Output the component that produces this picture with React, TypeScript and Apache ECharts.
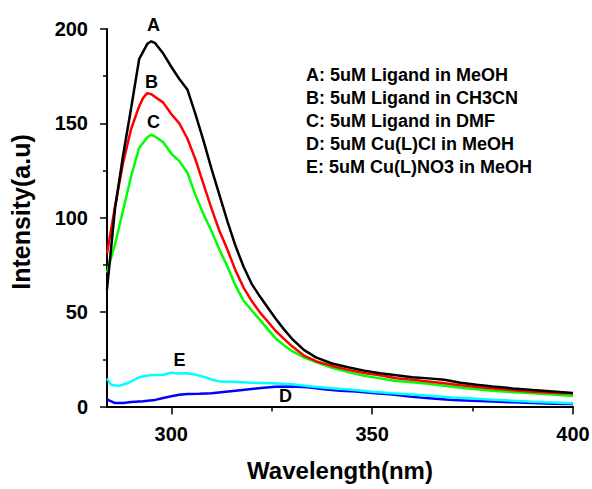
import React, { useEffect, useRef } from "react";
import * as echarts from "echarts";

// Curve A: 5uM Ligand in MeOH (black)
const wavelengthA = [284, 286, 288, 290, 292, 294, 295, 296, 298, 300, 302, 304, 306, 308, 310, 312, 314, 316, 318, 320, 322, 324, 326, 328, 330, 333, 336, 340, 344, 348, 352, 356, 360, 364, 368, 372, 376, 380, 385, 390, 395, 400];
const intensityA = [62, 105, 133, 158, 184, 192, 193.5, 192.5, 187, 180, 173.5, 168, 155, 141, 126, 112, 98, 85, 74, 65, 58.5, 52.5, 46.5, 41, 36, 30, 26, 22.8, 20.8, 19, 17.6, 16.6, 15.5, 14.9, 14.2, 12.6, 11.5, 10.6, 9.6, 8.7, 8, 7.2];

// Curve B: 5uM Ligand in CH3CN (red)
const wavelengthB = [284, 286, 288, 290, 292, 293, 294, 295, 296, 298, 300, 302, 304, 306, 308, 310, 312, 314, 316, 318, 320, 322, 324, 326, 328, 330, 333, 336, 340, 344, 348, 352, 356, 360, 364, 368, 372, 376, 380, 385, 390, 395, 400];
const intensityB = [81, 106, 129, 147, 159, 163.5, 166, 165.5, 164, 161, 155, 150, 142, 131, 118, 105, 93, 83, 72, 63, 56, 50, 45, 40, 36, 32, 27, 24, 21.5, 19.4, 17.8, 16.6, 15, 14.2, 13.3, 12.3, 11.2, 10.3, 9.5, 8.6, 7.8, 7.3, 6.9];

// Curve C: 5uM Ligand in DMF (green)
const wavelengthC = [284, 286, 288, 290, 292, 294, 295, 296, 298, 300, 302, 304, 306, 308, 310, 312, 314, 316, 318, 320, 322, 324, 326, 328, 330, 333, 336, 340, 344, 348, 352, 356, 360, 364, 368, 372, 376, 380, 385, 390, 395, 400];
const intensityC = [71, 86, 104, 122, 137, 142.5, 144, 143, 140, 134, 130, 124, 112, 102, 93, 83, 74, 64, 56, 51, 46, 41, 36, 32.5, 29.5, 26, 23.5, 20.5, 18.2, 16.3, 14.9, 13.5, 12.9, 12, 11, 9.9, 9.2, 8.4, 7.6, 7, 6.3, 5.6];

// Curve D: 5uM Cu(L)Cl in MeOH (blue)
const wavelengthD = [284, 286, 288, 290, 293, 296, 298, 300, 302, 304, 307, 310, 313, 316, 320, 323, 326, 330, 334, 338, 342, 346, 350, 355, 360, 365, 370, 375, 380, 385, 390, 395, 400];
const intensityD = [3.8, 1.8, 1.9, 2.4, 2.8, 3.5, 4.5, 5.4, 6.2, 6.6, 6.7, 7, 7.7, 8.4, 9.3, 9.9, 10.4, 10.6, 10.2, 9.1, 8.4, 7.9, 7.2, 6.3, 5.1, 4.3, 3.5, 3, 2.6, 2.2, 1.8, 1.5, 1.3];

// Curve E: 5uM Cu(L)NO3 in MeOH (cyan)
const wavelengthE = [284, 285, 287, 289, 292, 295, 298, 300, 302, 304, 306, 308, 310, 312, 315, 320, 325, 330, 335, 340, 345, 350, 355, 360, 365, 370, 375, 380, 385, 390, 395, 400];
const intensityE = [14.9, 11.5, 10.9, 12.3, 15.5, 16.7, 16.8, 17.9, 17.5, 17.6, 16.9, 15.8, 14.3, 13.3, 13.1, 12.6, 12.3, 11.8, 10.6, 9.7, 8.9, 7.8, 7, 6.3, 5.6, 4.8, 4.2, 3.6, 3.1, 2.5, 2.1, 1.7];

const legendLines = [
  "A: 5uM Ligand in MeOH",
  "B: 5uM Ligand in CH3CN",
  "C: 5uM Ligand in DMF",
  "D: 5uM Cu(L)Cl in MeOH",
  "E: 5uM Cu(L)NO3 in MeOH",
];

const xMajorTicks = [300, 350, 400];
const xMinorTicks = [325, 375];

const FONT = "'Liberation Sans', Arial, Helvetica, sans-serif";

const zip = (xs: number[], ys: number[]) => xs.map((x, i) => [x, ys[i]]);

export default function App() {
  const ref = useRef<HTMLDivElement>(null);

  useEffect(() => {
    if (!ref.current) return;
    const chart = echarts.init(ref.current, undefined, { renderer: "svg" });

    const line = (name: string, data: number[][], color: string, z: number) => ({
      name,
      type: "line",
      data,
      showSymbol: false,
      symbol: "none",
      smooth: false,
      z,
      lineStyle: { color, width: 2.5 },
      itemStyle: { color },
    });

    const textEl = (text: string, x: number, y: number, size: number, align = "center") => ({
      type: "text",
      x,
      y,
      style: {
        text,
        fill: "#000",
        font: `bold ${size}px ${FONT}`,
        textAlign: align,
        textVerticalAlign: "middle",
      },
    });

    const legendEls = legendLines.map((t, i) => textEl(t, 306, 75 + i * 23, 18, "left"));

    chart.setOption({
      animation: false,
      backgroundColor: "#fff",
      grid: { left: 107, top: 29, width: 466, height: 377.5, containLabel: false, outerBoundsMode: "none" },
      xAxis: [
        {
          type: "value",
          min: 284,
          max: 400,
          position: "bottom",
          splitLine: { show: false },
          axisLine: { show: true, onZero: false, lineStyle: { color: "#000", width: 2 } },
          axisTick: { show: true, customValues: xMajorTicks, length: 8, lineStyle: { color: "#000", width: 1.5 } },
          axisLabel: {
            customValues: xMajorTicks,
            fontSize: 20,
            fontWeight: "bold",
            fontFamily: FONT,
            color: "#000",
            margin: 17,
          },
          name: "Wavelength(nm)",
          nameLocation: "middle",
          nameGap: 52,
          nameTextStyle: { fontSize: 24, fontWeight: "bold", fontFamily: FONT, color: "#000" },
        },
        {
          type: "value",
          min: 284,
          max: 400,
          position: "bottom",
          splitLine: { show: false },
          axisLine: { show: false },
          axisLabel: { show: false },
          axisTick: { show: true, customValues: xMinorTicks, length: 5, lineStyle: { color: "#000", width: 1.5 } },
        },
      ],
      yAxis: {
        type: "value",
        min: 0,
        max: 200,
        interval: 50,
        splitLine: { show: false },
        minorSplitLine: { show: false },
        axisLine: { show: true, onZero: false, lineStyle: { color: "#000", width: 2 } },
        axisTick: { show: true, length: 7, lineStyle: { color: "#000", width: 1.5 } },
        minorTick: { show: true, splitNumber: 2, length: 4, lineStyle: { color: "#000", width: 1.5 } },
        axisLabel: {
          fontSize: 20,
          fontWeight: "bold",
          fontFamily: FONT,
          color: "#000",
          margin: 19,
        },
      },
      graphic: [
        {
          type: "text",
          x: 21,
          y: 212,
          rotation: Math.PI / 2,
          style: {
            text: "Intensity(a.u)",
            fill: "#000",
            font: `bold 25px ${FONT}`,
            textAlign: "center",
            textVerticalAlign: "middle",
          },
        },
        ...legendEls,
        textEl("A", 153.5, 24.5, 18),
        textEl("B", 151.5, 81.5, 18),
        textEl("C", 153.5, 121.5, 18),
        textEl("D", 285.5, 396, 18),
        textEl("E", 179.5, 360, 18),
      ],
      series: [
        line(legendLines[3], zip(wavelengthD, intensityD), "#0000ff", 2),
        line(legendLines[4], zip(wavelengthE, intensityE), "#00ffff", 3),
        line(legendLines[2], zip(wavelengthC, intensityC), "#00ff00", 4),
        line(legendLines[1], zip(wavelengthB, intensityB), "#ff0000", 5),
        line(legendLines[0], zip(wavelengthA, intensityA), "#000000", 6),
      ],
    });

    return () => chart.dispose();
  }, []);

  return (
    <div
      ref={ref}
      style={{ position: "fixed", left: 0, top: 0, width: 592, height: 489, background: "#fff" }}
    />
  );
}
